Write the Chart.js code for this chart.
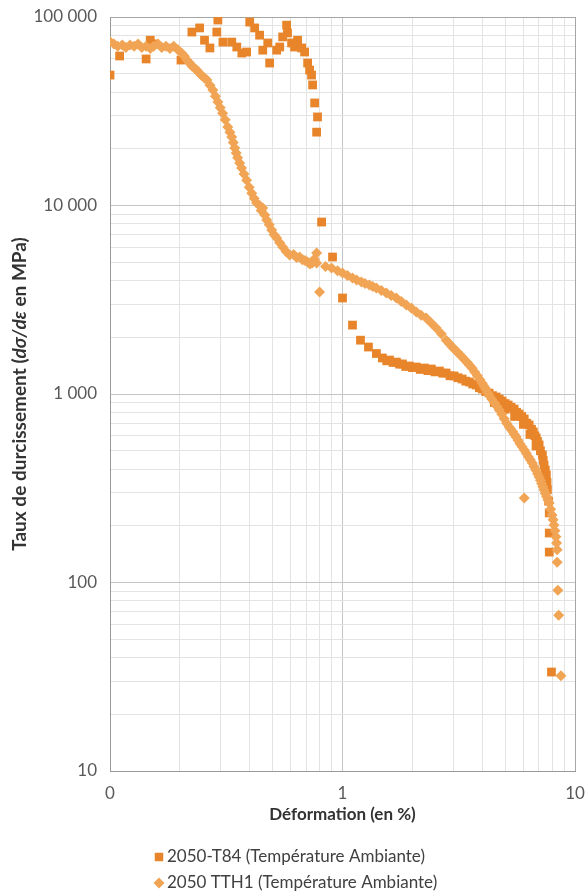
<!DOCTYPE html>
<html>
<head>
<meta charset="utf-8">
<script src="https://cdn.jsdelivr.net/npm/chart.js@4.4.1/dist/chart.umd.min.js"></script>
<style>
  html, body { margin: 0; padding: 0; background: #fff; }
</style>
</head>
<body>
<canvas id="chart" width="586" height="894"></canvas>
<script>
// séries : [déformation %, taux de durcissement MPa]
const seriesNames = ["2050-T84 (Température Ambiante)", "2050 TTH1 (Température Ambiante)"];

const t84 = [
  [0.100, 49200], [0.110, 62100], [0.143, 59900], [0.149, 75300], [0.155, 72000], [0.202, 59100],
  [0.225, 83200], [0.243, 87500], [0.255, 75300], [0.269, 68500], [0.291, 96400], [0.288, 83200],
  [0.306, 73600], [0.334, 73600], [0.351, 69300], [0.369, 64400], [0.387, 65200], [0.399, 94000],
  [0.419, 87500], [0.440, 80100], [0.454, 66700], [0.477, 72800], [0.486, 57000], [0.521, 66700],
  [0.537, 69300], [0.553, 78400], [0.575, 90500], [0.580, 82300], [0.604, 72800], [0.622, 69300],
  [0.641, 75300], [0.667, 68500], [0.687, 65200], [0.708, 57000], [0.722, 52300], [0.736, 49200],
  [0.744, 43600], [0.759, 35000], [0.781, 29500], [0.774, 24500], [0.813, 8170], [0.906, 5330],
  [1.000, 3230], [1.104, 2320], [1.195, 1930], [1.293, 1775], [1.399, 1640], [1.484, 1553],
  [1.55, 1500], [1.592, 1514], [1.65, 1470], [1.705, 1477], [1.76, 1440], [1.810, 1443],
  [1.87, 1400], [1.939, 1408], [2.00, 1380], [2.077, 1390], [2.16, 1350], [2.25, 1373],
  [2.33, 1330], [2.41, 1357], [2.50, 1310], [2.61, 1324], [2.70, 1290], [2.79, 1292],
  [2.90, 1250], [3.02, 1246], [3.14, 1220], [3.27, 1201], [3.39, 1170], [3.51, 1158],
  [3.63, 1130], [3.76, 1116], [3.88, 1080], [3.99, 1063], [4.13, 1030], [4.27, 1012],
  [4.42, 980], [4.58, 964], [4.72, 940], [4.86, 918], [5.01, 890], [5.16, 874],
  [5.31, 850], [5.47, 832], [5.61, 800], [5.75, 783], [5.90, 760], [6.05, 737],
  [6.20, 700], [6.35, 685], [6.50, 650], [6.62, 629], [6.72, 600], [6.81, 584],
  [6.90, 560], [7.01, 537], [7.10, 500], [7.24, 475], [7.30, 445], [7.36, 420],
  [7.45, 395], [7.53, 372], [7.58, 340], [7.61, 310], [7.70, 270], [7.75, 234],
  [7.75, 183], [7.75, 145], [7.92, 33.5],
  [4.50, 900], [5.00, 830], [5.50, 760], [6.00, 690], [6.40, 610], [6.80, 530]
];

const tth1 = [
  [0.100, 74000], [0.104, 72000], [0.108, 70000], [0.113, 71000], [0.117, 69000], [0.122, 71000],
  [0.127, 70000], [0.132, 72000], [0.137, 69000], [0.143, 70000], [0.149, 68000], [0.154, 70000],
  [0.161, 72000], [0.167, 69000], [0.174, 70000], [0.181, 68000], [0.188, 70000], [0.196, 67000],
  [0.204, 64000], [0.209, 62000], [0.214, 59100], [0.220, 57000], [0.225, 55000], [0.231, 53500],
  [0.236, 52300], [0.242, 50500], [0.248, 49000], [0.255, 47500], [0.261, 46300], [0.269, 43500],
  [0.277, 41000], [0.284, 38000], [0.291, 35400], [0.298, 33000], [0.305, 30900], [0.313, 28500],
  [0.321, 26100], [0.328, 24500], [0.334, 23100], [0.339, 21600], [0.344, 20200], [0.349, 19000],
  [0.354, 17900], [0.361, 16800], [0.368, 15800], [0.377, 14700], [0.387, 13600], [0.397, 12500],
  [0.407, 11600], [0.417, 10900], [0.427, 10300], [0.440, 10000], [0.447, 9400], [0.454, 9700],
  [0.463, 8900], [0.472, 8380], [0.484, 7900], [0.496, 7410], [0.508, 7000], [0.521, 6730],
  [0.537, 6350], [0.553, 6030], [0.572, 5700], [0.592, 5460], [0.616, 5500], [0.635, 5300],
  [0.654, 5330], [0.672, 5150], [0.690, 5100], [0.708, 5010], [0.725, 4900], [0.740, 4950],
  [0.757, 5200], [0.774, 4950], [0.774, 5590], [0.797, 3480], [0.845, 4750], [0.897, 4660],
  [0.952, 4500], [1.000, 4380], [1.05, 4250], [1.104, 4120], [1.15, 4030], [1.206, 3930],
  [1.25, 3860], [1.306, 3790], [1.35, 3720], [1.399, 3650], [1.47, 3540], [1.544, 3430],
  [1.62, 3330], [1.705, 3230], [1.79, 3100], [1.882, 2970], [1.98, 2850], [2.077, 2720],
  [2.18, 2620], [2.29, 2530], [2.41, 2380], [2.53, 2240], [2.66, 2090], [2.79, 1930],
  [2.88, 1850], [2.966, 1775], [3.04, 1720], [3.12, 1670], [3.19, 1620], [3.27, 1570],
  [3.35, 1520], [3.44, 1470], [3.52, 1420], [3.61, 1370], [3.70, 1310], [3.80, 1250],
  [3.90, 1190], [3.99, 1140], [4.06, 1100], [4.13, 1060], [4.20, 1020], [4.27, 988],
  [4.38, 940], [4.50, 900], [4.61, 860], [4.72, 823], [4.84, 780], [4.96, 740],
  [5.08, 700], [5.21, 668], [5.30, 650], [5.40, 630], [5.49, 610], [5.58, 591],
  [5.69, 568], [5.80, 545], [5.92, 525], [6.05, 505], [6.05, 281], [6.17, 485],
  [6.30, 465], [6.42, 448], [6.55, 431], [6.66, 413], [6.78, 395], [6.90, 378],
  [7.01, 363], [7.10, 349], [7.18, 335], [7.27, 322], [7.36, 310], [7.45, 297],
  [7.55, 285], [7.65, 274], [7.75, 264], [7.86, 245], [7.97, 228], [8.05, 215],
  [8.12, 202], [8.20, 188], [8.28, 175], [8.33, 162], [8.38, 149], [8.38, 128],
  [8.44, 91], [8.51, 67], [8.70, 32]
];

const xRange = [0.1, 10];
const yRange = [10, 100000];
const xTickValues = [0.1, 1, 10];
const xTickLabels = ["0", "1", "10"];
const yTickValues = [10, 100, 1000, 10000, 100000];
const yTickLabels = ["10", "100", "1 000", "10 000", "100 000"];
const xTitle = "Déformation (en %)";
const yTitleParts = ["Taux de durcissement (", "dσ/dε", " en MPa)"];

const colT84 = "#E8852A";
const colTTH1 = "#F1A454";

const FONT = "Lato, 'Open Sans', sans-serif";

// graduations log : 1..9 x 10^k
function logTicks(min, max) {
  const out = [];
  for (let k = Math.round(Math.log10(min)); Math.pow(10, k) <= max; k++) {
    for (let d = 1; d <= 9; d++) {
      const v = d * Math.pow(10, k);
      if (v >= min * 0.999 && v <= max * 1.001) out.push({ value: v });
    }
  }
  return out;
}
function findLabel(v, vals, labels) {
  for (let i = 0; i < vals.length; i++) {
    if (Math.abs(v - vals[i]) / vals[i] < 1e-6) return labels[i];
  }
  return "";
}
function gridColor(ctx, vals, max) {
  const v = ctx.tick ? ctx.tick.value : 0;
  if (Math.abs(v - max) / max < 1e-6) return "#a6a6a6";
  if (findLabel(v, vals, vals.map(String)) !== "") return "#c4c4c4";
  return "#e3e3e3";
}

const extraText = {
  id: "extraText",
  afterDraw(chart) {
    const ctx = chart.ctx;
    const area = chart.chartArea;
    ctx.save();
    // titre de l'axe Y, avec dσ/dε en italique
    ctx.translate(20, (area.top + area.bottom) / 2);
    ctx.rotate(-Math.PI / 2);
    ctx.fillStyle = "#333";
    ctx.textBaseline = "middle";
    const fonts = ["bold 19px " + FONT, "italic bold 19px " + FONT, "bold 19px " + FONT];
    let total = 0;
    yTitleParts.forEach((t, i) => { ctx.font = fonts[i]; total += ctx.measureText(t).width; });
    let x = -total / 2;
    yTitleParts.forEach((t, i) => {
      ctx.font = fonts[i];
      ctx.fillText(t, x, 0);
      x += ctx.measureText(t).width;
    });
    ctx.restore();

    // légende
    const items = [
      { text: seriesNames[0], color: colT84, style: "rect", r: 6, y: 857 },
      { text: seriesNames[1], color: colTTH1, style: "rectRot", r: 5.5, y: 883 }
    ];
    ctx.save();
    ctx.font = "17px " + FONT;
    ctx.textBaseline = "middle";
    items.forEach(it => {
      ctx.fillStyle = it.color;
      Chart.helpers.drawPoint(ctx, { pointStyle: it.style, radius: it.r, rotation: 0, borderWidth: 0 }, 159, it.y);
      ctx.fillStyle = "#404040";
      ctx.fillText(it.text, 167, it.y);
    });
    ctx.restore();
  }
};

const toPoints = arr => arr.map(p => ({ x: p[0], y: p[1] }));

new Chart(document.getElementById("chart"), {
  type: "scatter",
  data: {
    datasets: [
      {
        label: seriesNames[0], data: toPoints(t84), order: 2,
        pointStyle: "rect", pointRadius: 6.2, pointBorderWidth: 0,
        backgroundColor: colT84, borderColor: colT84
      },
      {
        label: seriesNames[1], data: toPoints(tth1), order: 1,
        pointStyle: "rectRot", pointRadius: 5.5, pointBorderWidth: 0,
        backgroundColor: colTTH1, borderColor: colTTH1
      }
    ]
  },
  options: {
    responsive: false,
    animation: false,
    layout: { padding: { top: 17, right: 11, bottom: 69, left: 0 } },
    plugins: { legend: { display: false }, tooltip: { enabled: false } },
    scales: {
      x: {
        type: "logarithmic", min: xRange[0], max: xRange[1],
        afterBuildTicks: s => { s.ticks = logTicks(xRange[0], xRange[1]); },
        afterFit: s => { s.height = 54; s.paddingLeft = 0; s.paddingRight = 0; },
        ticks: {
          autoSkip: false, maxRotation: 0, padding: 12,
          color: "#595959", font: { family: FONT, size: 17 },
          callback: v => findLabel(v, xTickValues, xTickLabels)
        },
        grid: { drawTicks: false, color: c => gridColor(c, xTickValues, xRange[1]) },
        border: { color: "#9a9a9a", width: 1 },
        title: {
          display: true, text: xTitle, color: "#333", padding: 0,
          font: { family: FONT, size: 17, weight: "bold" }
        }
      },
      y: {
        type: "logarithmic", min: yRange[0], max: yRange[1],
        afterBuildTicks: s => { s.ticks = logTicks(yRange[0], yRange[1]); },
        afterFit: s => { s.width = 110; s.paddingTop = 0; s.paddingBottom = 0; },
        ticks: {
          autoSkip: false, padding: 13,
          color: "#595959", font: { family: FONT, size: 17 },
          callback: v => findLabel(v, yTickValues, yTickLabels)
        },
        grid: { drawTicks: false, color: c => gridColor(c, yTickValues, yRange[1]) },
        border: { color: "#9a9a9a", width: 1 }
      }
    }
  },
  plugins: [extraText]
});
</script>
</body>
</html>
